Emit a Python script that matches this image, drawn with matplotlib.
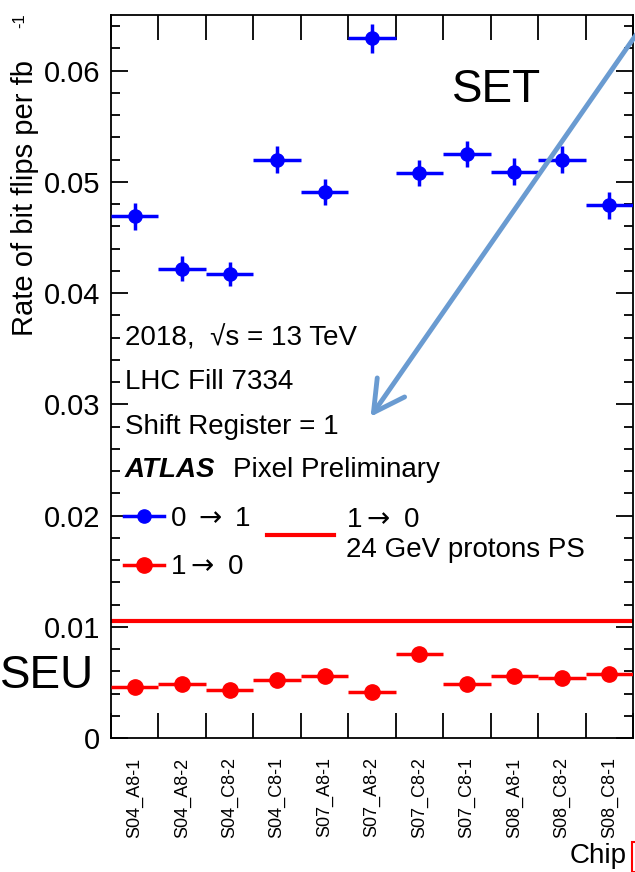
import numpy as np
import matplotlib.pyplot as plt
from matplotlib.lines import Line2D
from matplotlib.patches import FancyArrowPatch, Rectangle
from matplotlib.ticker import MultipleLocator, FuncFormatter

plt.rcParams['font.family'] = ['Liberation Sans', 'DejaVu Sans']

# Bit-flip rates per chip (Shift Register = 1, LHC Fill 7334)
chips = ["S04_A8-1", "S04_A8-2", "S04_C8-2", "S04_C8-1", "S07_A8-1", "S07_A8-2",
         "S07_C8-2", "S07_C8-1", "S08_A8-1", "S08_C8-2", "S08_C8-1"]
rate_01 = [0.0469, 0.0422, 0.0417, 0.0520, 0.0491, 0.0629,
           0.0508, 0.0525, 0.0509, 0.0520, 0.0479]
err_01 = [0.0012, 0.0011, 0.0011, 0.0012, 0.0012, 0.0013,
          0.0012, 0.0012, 0.0012, 0.0012, 0.0012]
rate_10 = [0.00461, 0.00485, 0.00431, 0.00521, 0.00557, 0.00410,
           0.00752, 0.00485, 0.00557, 0.00536, 0.00575]
err_10 = [0.0004, 0.0004, 0.0004, 0.0004, 0.0004, 0.0004,
          0.0005, 0.0004, 0.0004, 0.0004, 0.0004]
ps_rate_10 = 0.0105  # 24 GeV protons at PS, 1 -> 0

W, H = 635, 872


def fx(px):
    return px / W


def fy(py):
    return 1 - py / H


fig = plt.figure(figsize=(W / 100, H / 100), dpi=100)
ax = fig.add_axes([fx(111), fy(738), (633 - 111) / W, (738 - 15) / H])

x = np.arange(len(chips)) + 0.5
ax.errorbar(x, rate_01, xerr=0.5, yerr=err_01, fmt='o', color='blue',
            ms=9.5, lw=2.5, capsize=0, zorder=3)
ax.errorbar(x, rate_10, xerr=0.5, yerr=err_10, fmt='o', color='red',
            ms=11, lw=2.5, capsize=0, zorder=3)
ax.axhline(ps_rate_10, color='red', lw=3, zorder=2)

ax.set_xlim(0, len(chips))
ax.set_ylim(0, 0.065)

# x: labels at bin centres, long ticks at bin edges
ax.set_xticks(x)
ax.set_xticklabels(chips, rotation=90, fontsize=13)
ax.set_xticks(np.arange(len(chips) + 1), minor=True)
ax.tick_params(axis='x', which='major', length=0, pad=14)
ax.tick_params(axis='x', which='minor', direction='in', length=18,
               width=1.3, top=True, bottom=True)

ax.yaxis.set_major_locator(MultipleLocator(0.01))
ax.yaxis.set_minor_locator(MultipleLocator(0.002))
ax.yaxis.set_major_formatter(FuncFormatter(lambda v, p: '0' if abs(v) < 1e-9 else f'{v:.2f}'))
ax.tick_params(axis='y', which='major', direction='in', length=12, width=1.3,
               left=True, right=True, labelsize=21, pad=8)
ax.tick_params(axis='y', which='minor', direction='in', length=6.5, width=1.3,
               left=True, right=True)
for s in ax.spines.values():
    s.set_linewidth(1.3)

# axis titles
fig.text(fx(25), fy(60), 'Rate of bit flips per fb', rotation=90,
         ha='center', va='top', fontsize=21)
fig.text(fx(20), fy(13), '-1', rotation=90, ha='center', va='top', fontsize=12)
fig.text(fx(627), fy(863), 'Chip', ha='right', va='baseline', fontsize=20)

# info block
fig.text(fx(125), fy(338), '2018,  √s = 13 TeV', va='center', fontsize=20)
fig.text(fx(125), fy(382), 'LHC Fill 7334', va='center', fontsize=20)
fig.text(fx(125), fy(427), 'Shift Register = 1', va='center', fontsize=20)
fig.text(fx(125), fy(470), 'ATLAS', va='center', fontsize=20,
         fontweight='bold', fontstyle='italic')
fig.text(fx(233), fy(470), 'Pixel Preliminary', va='center', fontsize=20)

leg1 = ax.legend([Line2D([], [], color='blue', marker='o', ms=9.5, lw=2.5),
                  Line2D([], [], color='red', marker='o', ms=11, lw=2.5)],
                 ['0 $\\rightarrow$ 1', '1$\\rightarrow$ 0'], loc='upper left',
                 bbox_to_anchor=(fx(124), fy(506)), bbox_transform=fig.transFigure,
                 frameon=False, fontsize=20, handlelength=1.45, handletextpad=0.2,
                 labelspacing=0.8, borderpad=0, borderaxespad=0)
ax.add_artist(leg1)
ax.legend([Line2D([], [], color='red', lw=3)], ['1$\\rightarrow$ 0\n24 GeV protons PS'],
          loc='upper left', bbox_to_anchor=(fx(267), fy(507)),
          bbox_transform=fig.transFigure, frameon=False, fontsize=20,
          handlelength=2.4, handletextpad=0.45, borderpad=0, borderaxespad=0)

# SET / SEU annotations
fig.text(fx(497), fy(102), 'SET', ha='center', va='baseline', fontsize=33)
fig.text(fx(47), fy(688), 'SEU', ha='center', va='baseline', fontsize=33)
fig.add_artist(FancyArrowPatch((fx(638), fy(32)), (fx(369), fy(419)),
                               transform=fig.transFigure,
                               arrowstyle='->,head_length=1.1,head_width=0.6',
                               mutation_scale=20, lw=3.5, color='#6a9bd1'))
fig.add_artist(Rectangle((fx(632), 0), 0.05, (872 - 842) / H,
                         transform=fig.transFigure, fill=False,
                         edgecolor='red', lw=1.5))

fig.savefig('out.png', dpi=100)
